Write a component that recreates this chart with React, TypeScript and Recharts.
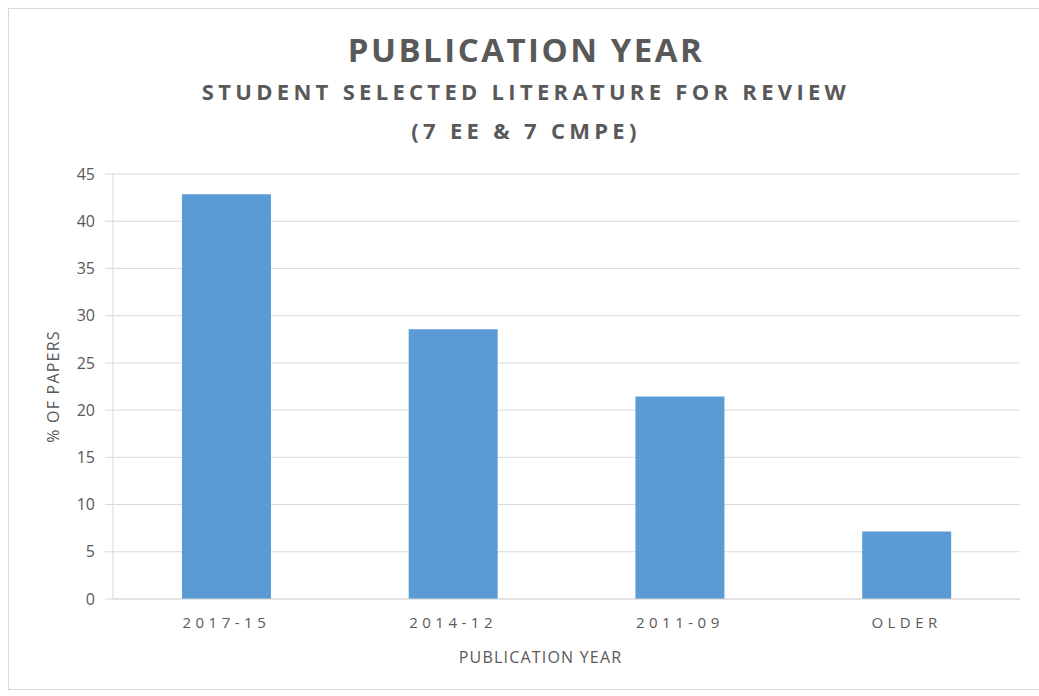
import React from 'react';
import { BarChart, Bar, XAxis, YAxis, CartesianGrid } from 'recharts';

const categories = ['2017-15', '2014-12', '2011-09', 'OLDER'];
const percentPapers = [42.86, 28.57, 21.43, 7.14];
const yTicks = [0, 5, 10, 15, 20, 25, 30, 35, 40, 45];

const data = categories.map((year, i) => ({ year, pct: percentPapers[i] }));

const textColor = '#595959';
const gridColor = '#d9d9d9';
const font = '"Open Sans", "DejaVu Sans", sans-serif';

const titleBase: React.CSSProperties = {
  position: 'absolute',
  left: 0,
  width: 1052,
  textAlign: 'center',
  color: textColor,
  fontFamily: font,
  fontWeight: 700,
  whiteSpace: 'nowrap',
};

export default function App() {
  return (
    <div style={{ position: 'absolute', left: 0, top: 0, width: 1039, height: 696, background: '#fff', fontFamily: font }}>
      <div
        style={{
          position: 'absolute',
          left: 8,
          top: 8,
          width: 1040,
          height: 682,
          border: '1px solid #d9d9d9',
          boxSizing: 'border-box',
        }}
      />
      <div style={{ ...titleBase, top: 27, fontSize: 33, letterSpacing: 2.5 }}>PUBLICATION YEAR</div>
      <div style={{ ...titleBase, top: 76, fontSize: 22, letterSpacing: 4.3 }}>
        STUDENT SELECTED LITERATURE FOR REVIEW
      </div>
      <div style={{ ...titleBase, top: 115, fontSize: 22, letterSpacing: 4.3 }}>(7 EE &amp; 7 CMPE)</div>
      <div style={{ position: 'absolute', left: 0, top: 0 }}>
        <BarChart
          width={1039}
          height={696}
          data={data}
          margin={{ top: 174, right: 19, bottom: 27, left: 0 }}
          barCategoryGap="30.4%"
        >
          <CartesianGrid vertical={false} stroke={gridColor} />
          <XAxis
            dataKey="year"
            height={70}
            axisLine={{ stroke: gridColor }}
            tickLine={false}
            tickSize={0}
            tickMargin={18}
            tick={{ fill: textColor, fontSize: 15, letterSpacing: 4.5, fontFamily: font }}
            label={{
              value: 'PUBLICATION YEAR',
              position: 'insideBottom',
              offset: 6,
              dx: -26,
              fill: textColor,
              fontSize: 16,
              letterSpacing: 1.2,
              fontFamily: font,
            }}
          />
          <YAxis
            width={113}
            domain={[0, 45]}
            ticks={yTicks}
            interval={0}
            axisLine={{ stroke: gridColor }}
            tickLine={{ stroke: gridColor }}
            tickSize={8}
            tickMargin={10}
            tick={{ fill: textColor, fontSize: 16, fontFamily: font }}
            label={{
              value: '% OF PAPERS',
              angle: -90,
              position: 'insideLeft',
              offset: 53,
              fill: textColor,
              fontSize: 16,
              letterSpacing: 1.2,
              fontFamily: font,
              style: { textAnchor: 'middle' },
            }}
          />
          <Bar dataKey="pct" fill="#5b9bd5" isAnimationActive={false} />
        </BarChart>
      </div>
    </div>
  );
}
